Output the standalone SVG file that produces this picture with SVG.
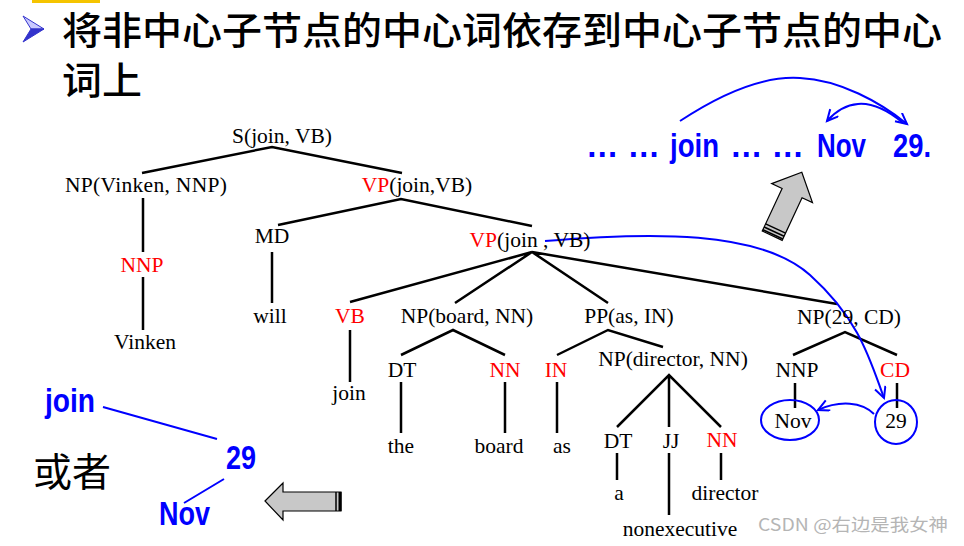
<svg xmlns="http://www.w3.org/2000/svg" width="964" height="546" viewBox="0 0 964 546">
<defs>
<style>
.t{font-family:"Liberation Serif","Times New Roman",serif;font-size:21.5px;fill:#000;text-anchor:middle}
.r{fill:#ff0000}
.cj{font-family:"Noto Sans CJK SC",sans-serif;fill:#000}
.b{font-family:"Liberation Sans",Arial,sans-serif;font-weight:bold;font-size:33px;fill:#0000ff}
.e{stroke:#000;stroke-width:2.5;fill:none}
.bl{stroke:#0000ff;stroke-width:2;fill:none}
.ga{fill:#c8c8c8;stroke:#000;stroke-width:1.2}
</style>
<marker id="v" markerUnits="userSpaceOnUse" markerWidth="16" markerHeight="14" refX="12" refY="6" orient="auto">
<path d="M1,0.5 L12,6 L1,11.5" fill="none" stroke="#0000ff" stroke-width="2"/>
</marker>
</defs>
<rect width="964" height="546" fill="#fff"/>

<g id="header">
<rect x="32" y="0" width="68" height="3" fill="#f5c400"/>
<polygon points="23,16 44,29 31,29" fill="#c8c8ff" stroke="#3333cc" stroke-width="1"/>
<polygon points="31,29 44,29 23,42" fill="#3333cc" stroke="#3333cc" stroke-width="1"/>
<text class="cj" x="62" y="44" font-size="38" font-weight="500" textLength="880" lengthAdjust="spacingAndGlyphs">将非中心子节点的中心词依存到中心子节点的中心</text>
<text class="cj" x="62" y="94" font-size="38" font-weight="500" textLength="80" lengthAdjust="spacingAndGlyphs">词上</text>
</g>

<g id="connectors">
<path class="e" d="M143,198 V252 M143,277 V330"/>
<path class="e" d="M142,173 L272,147 L402,173"/>
<path class="e" d="M278,225 L401,199 L532,226"/>
<path class="e" d="M272,252 V303"/>
<path class="e" d="M350,302 L532,252 L455,303 M532,252 L608,303 M532,252 L837,304"/>
<path class="e" d="M350,330 V382"/>
<path class="e" d="M401,355 L453,330 L505,355 M401,382 V433 M505,382 V433"/>
<path class="e" d="M557,355 L608,330 L663,347 M557,382 V433"/>
<path class="e" d="M617,427 L669,375 L721,427 M669,375 V427 M617,453 V480 M669,453 V515 M721,453 V480"/>
<path class="e" d="M793,355 L845,332 L897,355 M795,383 V408 M897,383 V408"/>
<path class="bl" d="M545,241 C650,232 760,230 810,275 S870,360 884,398" marker-end="url(#v)"/>
<path class="bl" d="M874,414 C862,402 840,400 818,410" marker-end="url(#v)"/>
<path class="bl" d="M680,121 C730,88 770,76 800,78 C840,80 880,102 907,124" marker-end="url(#v)"/>
<path class="bl" d="M903,123 C885,108 870,103 858,104 C845,105 835,112 827,121" marker-end="url(#v)"/>
<path class="bl" d="M103,407 L217,439 M224,479 L184,503"/>
</g>

<g id="n-S"><text class="t" x="282" y="143">S(join, VB)</text></g>
<g id="n-NP1"><text class="t" x="146" y="192" textLength="162">NP(Vinken, NNP)</text></g>
<g id="n-VP1"><text class="t" x="417" y="192"><tspan class="r">VP</tspan>(join,VB)</text></g>
<g id="n-NNP1"><text class="t r" x="142" y="272">NNP</text></g>
<g id="n-Vinken"><text class="t" x="145" y="349">Vinken</text></g>
<g id="n-MD"><text class="t" x="272" y="243">MD</text></g>
<g id="n-will"><text class="t" x="270" y="323">will</text></g>
<g id="n-VP2"><text class="t" x="530" y="247"><tspan class="r">VP</tspan>(join , VB)</text></g>
<g id="n-VB"><text class="t r" x="350" y="323">VB</text></g>
<g id="n-join"><text class="t" x="349" y="400">join</text></g>
<g id="n-NPboard"><text class="t" x="467" y="323">NP(board, NN)</text></g>
<g id="n-DT1"><text class="t" x="402" y="377">DT</text></g>
<g id="n-the"><text class="t" x="401" y="453">the</text></g>
<g id="n-NN1"><text class="t r" x="505" y="377">NN</text></g>
<g id="n-board"><text class="t" x="499" y="453">board</text></g>
<g id="n-PP"><text class="t" x="629" y="323">PP(as, IN)</text></g>
<g id="n-IN"><text class="t r" x="556" y="377">IN</text></g>
<g id="n-as"><text class="t" x="562" y="453">as</text></g>
<g id="n-NPdir"><text class="t" x="673" y="366">NP(director, NN)</text></g>
<g id="n-DT2"><text class="t" x="618" y="448">DT</text></g>
<g id="n-a"><text class="t" x="619" y="500">a</text></g>
<g id="n-JJ"><text class="t" x="671" y="448">JJ</text></g>
<g id="n-nonexec"><text class="t" x="680" y="536">nonexecutive</text></g>
<g id="n-NN2"><text class="t r" x="722" y="447">NN</text></g>
<g id="n-director"><text class="t" x="725" y="500">director</text></g>
<g id="n-NP29"><text class="t" x="849" y="324">NP(29, CD)</text></g>
<g id="n-NNP2"><text class="t" x="797" y="377">NNP</text></g>
<g id="n-CD"><text class="t r" x="895" y="377">CD</text></g>
<g id="n-Nov"><ellipse cx="790" cy="420" rx="29" ry="20" fill="none" stroke="#0000ff" stroke-width="2"/><text class="t" x="793" y="428">Nov</text></g>
<g id="n-29"><ellipse cx="896" cy="422" rx="21" ry="22" fill="none" stroke="#0000ff" stroke-width="2"/><text class="t" x="896" y="428">29</text></g>

<g id="sequence">
<text class="b" x="586" y="157" textLength="74" lengthAdjust="spacingAndGlyphs">… …</text>
<text class="b" x="670" y="157" textLength="49" lengthAdjust="spacingAndGlyphs">join</text>
<text class="b" x="730" y="157" textLength="74" lengthAdjust="spacingAndGlyphs">… …</text>
<text class="b" x="817" y="157" textLength="49" lengthAdjust="spacingAndGlyphs">Nov</text>
<text class="b" x="893" y="157" textLength="38" lengthAdjust="spacingAndGlyphs">29.</text>
</g>

<g id="arrow-up" transform="translate(787,204) rotate(25)">
<polygon class="ga" points="0,-35 22.5,-12 11,-12 11,35 -11,35 -11,-12 -22.5,-12"/>
<path d="M-11,27 H11 M-11,30.5 H11 M-11,33.5 H11" stroke="#000" stroke-width="1.5"/>
</g>

<g id="arrow-left">
<polygon class="ga" points="265,501 283,483 283,492 341,492 341,511 283,511 283,520"/>
<path d="M336,492 V511" stroke="#000" stroke-width="1.5"/>
<rect x="338.5" y="492" width="3" height="19" fill="#000"/>
</g>

<g id="alt-tree">
<text class="b" x="45" y="412" font-size="32" textLength="50" lengthAdjust="spacingAndGlyphs">join</text>
<text class="b" x="226" y="469" font-size="32" textLength="30" lengthAdjust="spacingAndGlyphs">29</text>
<text class="b" x="159" y="525" font-size="32" textLength="51" lengthAdjust="spacingAndGlyphs">Nov</text>
</g>

<g id="or"><text class="cj" x="33" y="486" font-size="39">或者</text></g>

<g id="watermark"><text x="758" y="531" font-family="'Noto Sans CJK SC',sans-serif" font-size="17" fill="#b5b5b5" textLength="190" lengthAdjust="spacingAndGlyphs">CSDN @右边是我女神</text></g>
</svg>
